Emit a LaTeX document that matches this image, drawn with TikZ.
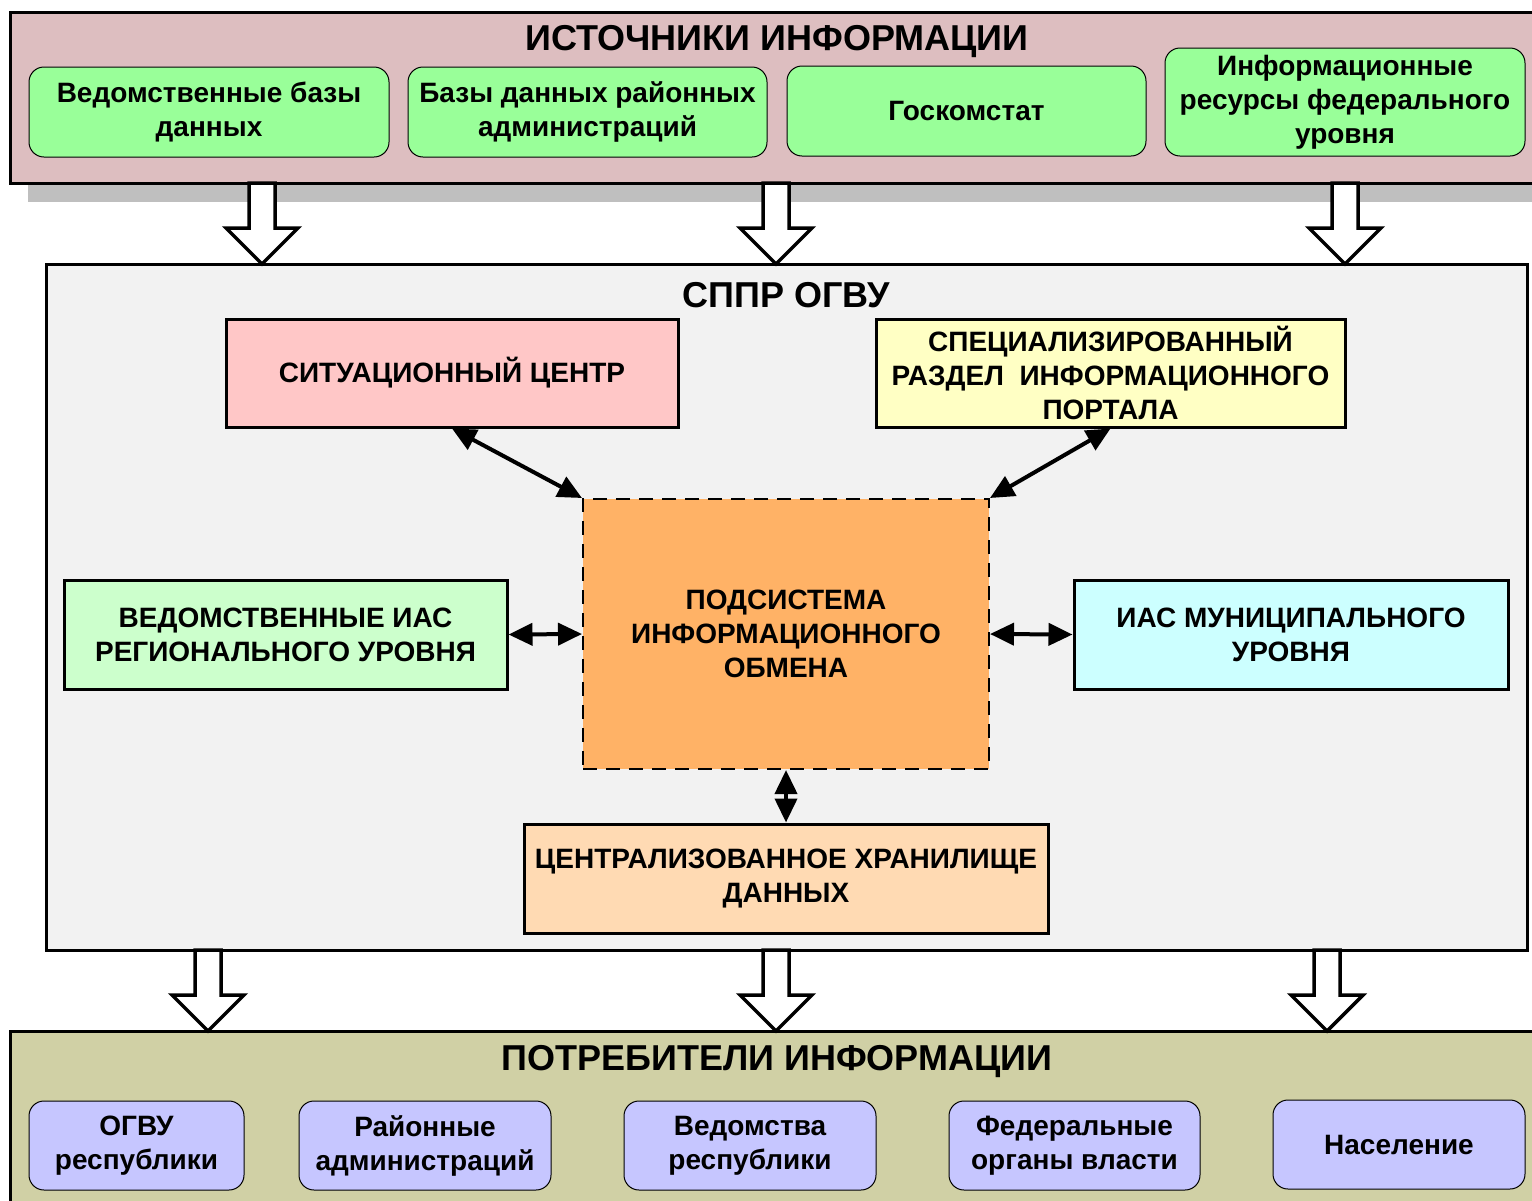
\documentclass[tikz,border=0pt]{standalone}
\usepackage{fontspec}
\setmainfont{Liberation Sans}
\usetikzlibrary{arrows.meta}
\definecolor{srcpink}{RGB}{221,190,192}
\definecolor{srcgreen}{RGB}{153,255,153}
\definecolor{shadowgray}{RGB}{191,191,191}
\definecolor{spprgray}{RGB}{242,242,242}
\definecolor{sitpink}{RGB}{255,199,199}
\definecolor{portalyellow}{RGB}{255,255,196}
\definecolor{podorange}{RGB}{255,178,102}
\definecolor{regiongreen}{RGB}{204,255,204}
\definecolor{municyan}{RGB}{204,255,255}
\definecolor{storepeach}{RGB}{255,218,179}
\definecolor{consolive}{RGB}{208,208,165}
\definecolor{consblue}{RGB}{198,198,255}
\newcommand{\diagfont}{\bfseries\fontsize{28}{34}\selectfont}
\newcommand{\titlefont}{\bfseries\fontsize{36}{40}\selectfont}

\begin{document}
\begin{tikzpicture}[x=1pt, y=-1pt,
    band/.style={draw, line width=3pt, inner sep=0pt},
    headline/.style={font=\titlefont, inner sep=0pt},
    softbox/.style={draw, line width=1pt, rounded corners=15pt, align=center, font=\diagfont, inner sep=0pt, minimum height=90pt},
    hardbox/.style={draw, line width=3pt, align=center, font=\diagfont, inner sep=0pt, minimum height=109pt},
    link/.style={{Triangle[length=24pt,width=22pt]}-{Triangle[length=24pt,width=22pt]}, line width=4pt},
    pics/bigarrow/.style={code={
        \draw[line width=3.5pt, fill=white, line join=miter]
          (-13,0) -- (-13,45) -- (-36,45) -- (0,81) -- (36,45) -- (13,45) -- (13,0) -- cycle;}}]
    \useasboundingbox (0,0) rectangle (1532,1200);
    \clip (0,0) rectangle (1532,1200);

    % Sources of information
    \fill[shadowgray] (28,30) rectangle (1560,202);
    \node[band, fill=srcpink, minimum width=1550pt, minimum height=171pt] (src) at (785,97.5) {};
    \node[headline] (srctitle) at (777,42) {ИСТОЧНИКИ ИНФОРМАЦИИ};
    \node[softbox, fill=srcgreen, minimum width=360pt] (s1) at (209,112) {Ведомственные базы\\данных};
    \node[softbox, fill=srcgreen, minimum width=359pt] (s2) at (587.5,112) {Базы данных районных\\администраций};
    \node[softbox, fill=srcgreen, minimum width=359pt] (s3) at (966.5,111) {Госкомстат};
    \node[softbox, fill=srcgreen, minimum width=360pt, minimum height=108pt] (s4) at (1345,102) {Информационные\\ресурсы федерального\\уровня};

    % DSS block
    \node[band, fill=spprgray, minimum width=1481pt, minimum height=686pt] (sppr) at (786.5,607) {};
    \node[headline] (spprtitle) at (786,295) {СППР ОГВУ};
    \node[hardbox, fill=sitpink, minimum width=452pt, minimum height=108pt] (sit) at (452,373) {СИТУАЦИОННЫЙ ЦЕНТР};
    \node[hardbox, fill=portalyellow, minimum width=469pt, minimum height=108pt] (portal) at (1110.5,373) {СПЕЦИАЛИЗИРОВАННЫЙ\\РАЗДЕЛ\ \ ИНФОРМАЦИОННОГО\\ПОРТАЛА};
    \node[draw, line width=2pt, dash pattern=on 14pt off 9pt, fill=podorange, align=center, font=\diagfont, inner sep=0pt, minimum width=406pt, minimum height=270pt] (pod) at (786,634) {ПОДСИСТЕМА\\ИНФОРМАЦИОННОГО\\ОБМЕНА};
    \node[hardbox, fill=regiongreen, minimum width=443pt] (region) at (285.5,634.5) {ВЕДОМСТВЕННЫЕ ИАС\\РЕГИОНАЛЬНОГО УРОВНЯ};
    \node[hardbox, fill=municyan, minimum width=434pt] (muni) at (1291,634.5) {ИАС МУНИЦИПАЛЬНОГО\\УРОВНЯ};
    \node[hardbox, fill=storepeach, minimum width=524pt] (store) at (786,878.5) {ЦЕНТРАЛИЗОВАННОЕ ХРАНИЛИЩЕ\\ДАННЫХ};

    \draw[link] (sit.south) -- (pod.north west);
    \draw[link] (portal.south) -- (pod.north east);
    \draw[link] (region.east) -- (pod.west);
    \draw[link] (pod.east) -- (muni.west);
    \draw[link] (pod.south) -- (store.north);

    % Consumers of information
    \node[band, fill=consolive, minimum width=1550pt, minimum height=188pt] (cons) at (785,1125) {};
    \node[headline] (constitle) at (777,1062) {ПОТРЕБИТЕЛИ ИНФОРМАЦИИ};
    \node[softbox, fill=consblue, minimum width=215pt, minimum height=89pt] (c1) at (136.5,1145.5) {ОГВУ\\республики};
    \node[softbox, fill=consblue, minimum width=252pt, minimum height=89pt] (c2) at (425,1145.5) {Районные\\администраций};
    \node[softbox, fill=consblue, minimum width=252pt, minimum height=89pt] (c3) at (750,1145.5) {Ведомства\\республики};
    \node[softbox, fill=consblue, minimum width=251pt, minimum height=89pt] (c4) at (1074.5,1145.5) {Федеральные\\органы власти};
    \node[softbox, fill=consblue, minimum width=252pt, minimum height=89pt] (c5) at (1399,1144.5) {Население};

    % Block arrows between levels
    \foreach \ax in {262,776,1345}
      \pic at (\ax,183) {bigarrow};
    \foreach \ax in {208,776,1327}
      \pic at (\ax,950) {bigarrow};
\end{tikzpicture}
\end{document}
